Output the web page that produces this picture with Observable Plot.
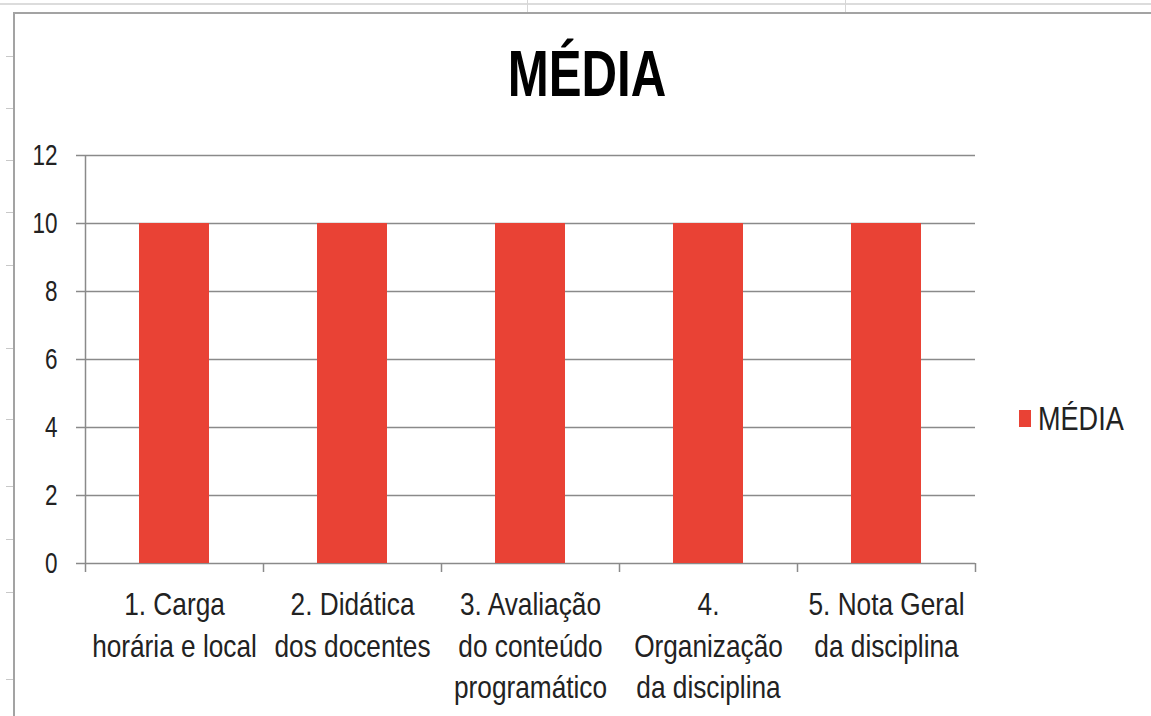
<!DOCTYPE html>
<html>
<head>
<meta charset="utf-8">
<script src="https://cdn.jsdelivr.net/npm/d3@7"></script>
<script src="https://cdn.jsdelivr.net/npm/@observablehq/plot@0.6"></script>
<style>
  html, body { margin: 0; padding: 0; background: #fff; }
  #page { position: relative; width: 1151px; height: 716px; overflow: hidden; background: #fff;
          font-family: "Liberation Sans", Arial, sans-serif; }
  .sheet-h { position: absolute; left: 0; top: 3px; width: 1151px; height: 2px; background: #dcdcdc; }
  .sheet-v { position: absolute; top: 0; width: 1px; height: 12px; background: #d6d6d6; }
  .row-tick { position: absolute; left: 6px; width: 8px; height: 1px; background: #c8c8c8; }
  #frame { position: absolute; left: 13px; top: 12px; width: 1200px; height: 800px;
           border-left: 2px solid #a3a3a3; border-top: 2px solid #a3a3a3; }
  #chart { position: absolute; left: 0; top: 0; }
  #title { position: absolute; left: 387px; width: 400px; top: 42px; text-align: center;
           font-weight: bold; font-size: 60px; line-height: 1; color: #000;
           transform: scale(0.82, 1.08); transform-origin: 200px 0; }
  #legend-swatch { position: absolute; left: 1019px; top: 410px; width: 12px; height: 17px; }
  #legend-text { position: absolute; left: 1038px; top: 402px; font-size: 33px; line-height: 1; color: #222;
                 transform: scaleX(0.82); transform-origin: 0 0; white-space: nowrap; }
</style>
</head>
<body>
<div id="page">
  <div class="sheet-h"></div>
  <div class="sheet-v" style="left:527px"></div>
  <div class="sheet-v" style="left:845px"></div>
  <div class="row-tick" style="top:56px"></div>
  <div class="row-tick" style="top:108px"></div>
  <div class="row-tick" style="top:160px"></div>
  <div class="row-tick" style="top:212px"></div>
  <div class="row-tick" style="top:265px"></div>
  <div class="row-tick" style="top:348px"></div>
  <div class="row-tick" style="top:419px"></div>
  <div class="row-tick" style="top:486px"></div>
  <div class="row-tick" style="top:539px"></div>
  <div class="row-tick" style="top:592px"></div>
  <div class="row-tick" style="top:679px"></div>
  <div id="frame"></div>
  <div id="chart"></div>
  <div id="title"></div>
  <div id="legend-swatch"></div>
  <div id="legend-text"></div>
</div>
<script>
// ---- data ----
const chartTitle = "MÉDIA";
const seriesName = "MÉDIA";
const categories = [
  "1. Carga\nhorária e local",
  "2. Didática\ndos docentes",
  "3. Avaliação\ndo conteúdo\nprogramático",
  "4.\nOrganização\nda disciplina",
  "5. Nota Geral\nda disciplina"
];
const values = [10, 10, 10, 10, 10];
const yTicks = [0, 2, 4, 6, 8, 10, 12];
const barColor = "#e94235";

// ---- build ----
const data = categories.map((c, i) => ({ category: c, value: values[i], index: i }));
const gap = 0.3034; // fraction of category slot left empty on each side of a bar
const narrow = 0.82; // horizontal condensation to mimic a narrow typeface

const chart = Plot.plot({
  width: 1151,
  height: 716,
  marginLeft: 85,
  marginRight: 176,
  marginTop: 155,
  marginBottom: 153,
  style: { background: "transparent", fontFamily: "'Liberation Sans', Arial, sans-serif", color: "#222", overflow: "visible" },
  x: { type: "linear", domain: [0, categories.length], axis: null },
  y: { domain: [0, yTicks[yTicks.length - 1]], axis: null },
  marks: [
    Plot.ruleY(yTicks, { y: d => d, stroke: "#8a8a8a", strokeWidth: 1.5 }),
    Plot.axisY({ ticks: yTicks, tickSize: 9, tickPadding: 19, fontSize: 30,
                 stroke: "#8a8a8a", strokeWidth: 1.5, label: null, tickFormat: d => String(d) }),
    Plot.ruleX([0], { x: d => d, y1: 0, y2: yTicks[yTicks.length - 1], stroke: "#8a8a8a", strokeWidth: 1.5 }),
    Plot.axisX({ ticks: d3.range(categories.length + 1), tickSize: 9, tickFormat: () => "",
                 stroke: "#8a8a8a", strokeWidth: 1.5, label: null }),
    Plot.rectY(data, { x1: d => d.index + gap, x2: d => d.index + 1 - gap, y: "value", fill: barColor }),
    Plot.text(data, { x: d => d.index + 0.5, text: "category", frameAnchor: "bottom",
                      lineAnchor: "top", dy: 22, fontSize: 32, lineHeight: 1.3, fill: "#222" })
  ]
});

// condense every text element horizontally around its own anchor
d3.select(chart).selectAll("text").each(function () {
  const t = this;
  const isY = !!t.closest('[text-anchor="end"]');
  const sx = isY ? 0.75 : narrow;
  const tr = t.getAttribute("transform");
  if (tr) {
    t.setAttribute("transform", tr + ` scale(${sx},1)`);
  } else {
    const x = +(t.getAttribute("x") || 0), y = +(t.getAttribute("y") || 0);
    t.removeAttribute("x"); t.removeAttribute("y");
    t.setAttribute("transform", `translate(${x},${y}) scale(${sx},1)`);
  }
});

document.getElementById("chart").appendChild(chart);
document.getElementById("title").textContent = chartTitle;
document.getElementById("legend-swatch").style.background = barColor;
document.getElementById("legend-text").textContent = seriesName;
</script>
</body>
</html>
